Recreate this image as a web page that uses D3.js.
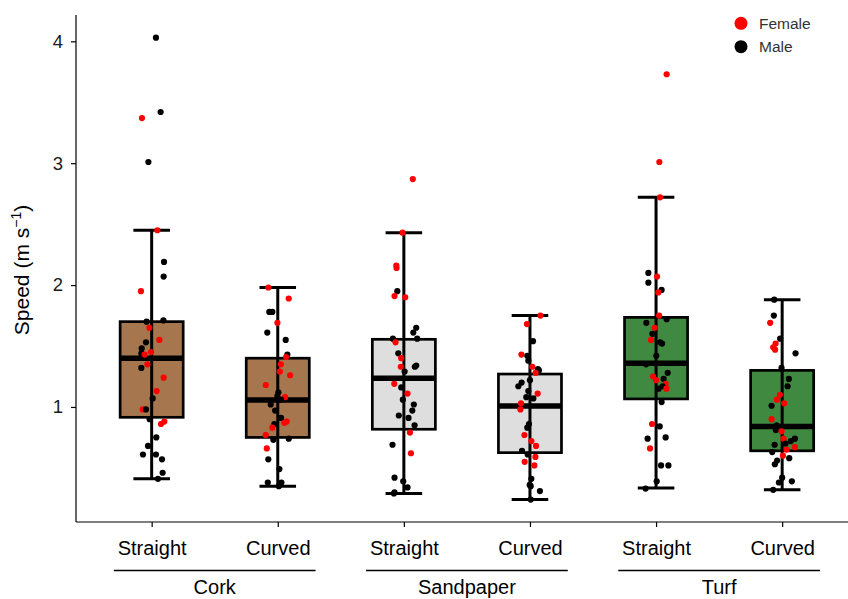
<!DOCTYPE html>
<html><head><meta charset="utf-8">
<script src="https://cdn.jsdelivr.net/npm/d3@7"></script>
<style>
html,body{margin:0;padding:0;background:#fff;}
text{font-family:"Liberation Sans",Arial,Helvetica,sans-serif;}
</style></head>
<body>
<svg id="chart" width="848" height="599"></svg>
<script>
// ---------- DATA ----------
const substrates = ["Cork", "Sandpaper", "Turf"];
const shapes = ["Straight", "Curved", "Straight", "Curved", "Straight", "Curved"];
const yTicks = [1, 2, 3, 4];
const sexes = ["Female", "Male"];

// box statistics per group (Cork S, Cork C, Sand S, Sand C, Turf S, Turf C)
const whiskerLow  = [0.41, 0.35, 0.29, 0.24, 0.336, 0.32];
const q1          = [0.915, 0.75, 0.817, 0.625, 1.066, 0.64];
const median      = [1.40, 1.057, 1.235, 1.008, 1.358, 0.84];
const q3          = [1.70, 1.40, 1.555, 1.27, 1.735, 1.30];
const whiskerHigh = [2.45, 1.98, 2.43, 1.75, 2.72, 1.88];

// points: [speed, sex, jitter (category units)]
const corkStraight = [[4.03,"M",0.034],[3.42,"M",0.071],[3.37,"F",-0.077],[3.01,"M",-0.026],[2.45,"F",0.045],[2.19,"M",0.098],[2.07,"M",0.095],[1.95,"F",-0.085],[1.70,"M",-0.04],[1.71,"M",0.093],[1.65,"F",-0.018],[1.55,"F",0.061],[1.53,"M",-0.045],[1.48,"M",-0.079],[1.44,"M",-0.082],[1.43,"F",-0.056],[1.45,"F",-0.005],[1.35,"F",-0.034],[1.32,"M",-0.082],[1.24,"F",0.095],[1.13,"F",0.040],[1.07,"M",0.008],[0.98,"F",-0.071],[0.98,"M",-0.045],[0.90,"M",-0.016],[0.86,"F",0.074],[0.88,"F",0.10],[0.75,"M",0.037],[0.68,"M",-0.029],[0.61,"M",-0.069],[0.61,"M",0.034],[0.57,"M",0.082],[0.46,"M",0.087],[0.41,"M",0.05]];
const corkCurved = [[1.98,"F",-0.075],[1.89,"F",0.087],[1.78,"M",-0.067],[1.78,"M",-0.043],[1.69,"F",-0.003],[1.61,"M",-0.083],[1.55,"M",0.063],[1.43,"M",0.076],[1.41,"F",0.066],[1.35,"F",0.024],[1.29,"F",0.016],[1.26,"F",0.098],[1.18,"F",-0.095],[1.12,"M",0.005],[1.09,"M",-0.003],[1.08,"F",0.058],[1.06,"M",0.026],[1.02,"M",-0.056],[0.97,"M",-0.021],[0.91,"M",0.026],[0.88,"F",0.071],[0.87,"F",0.052],[0.86,"M",-0.027],[0.83,"F",-0.043],[0.77,"F",-0.095],[0.73,"M",-0.035],[0.74,"M",0.087],[0.66,"F",-0.087],[0.57,"M",-0.075],[0.49,"M",0.013],[0.38,"M",-0.079],[0.38,"M",0.029],[0.35,"M",0.008]];
const sandStraight = [[2.87,"F",0.071],[2.43,"F",-0.010],[2.16,"F",-0.060],[2.14,"F",-0.058],[1.95,"M",-0.052],[1.91,"F",-0.074],[1.90,"F",0.011],[1.65,"M",0.098],[1.61,"M",0.075],[1.56,"M",-0.087],[1.56,"M",0.106],[1.53,"F",-0.066],[1.44,"M",-0.044],[1.40,"F",-0.021],[1.33,"F",-0.024],[1.34,"M",0.098],[1.33,"M",0.087],[1.29,"M",0.006],[1.19,"F",-0.076],[1.16,"M",-0.021],[1.11,"F",0.029],[1.06,"M",-0.008],[1.02,"M",0.079],[0.97,"M",0.067],[0.93,"M",-0.040],[0.91,"M",0.037],[0.85,"M",0.085],[0.79,"F",0.048],[0.69,"M",-0.090],[0.62,"F",0.056],[0.42,"M",-0.074],[0.39,"M",-0.005],[0.34,"M",0.029],[0.30,"M",-0.074],[0.29,"M",-0.079]];
const sandCurved = [[1.75,"F",0.083],[1.68,"F",-0.024],[1.54,"M",0.024],[1.43,"F",-0.068],[1.42,"M",-0.021],[1.38,"M",-0.013],[1.33,"F",0.019],[1.31,"M",0.063],[1.30,"M",0.071],[1.28,"F",0.045],[1.22,"M",0],[1.20,"M",-0.066],[1.17,"M",-0.092],[1.13,"M",-0.013],[1.11,"F",0.061],[1.08,"M",-0.029],[1.07,"M",0.027],[1.03,"F",-0.071],[0.98,"F",-0.076],[0.86,"M",-0.008],[0.83,"M",-0.021],[0.77,"F",-0.044],[0.72,"F",0.011],[0.68,"F",0.048],[0.64,"M",-0.063],[0.61,"M",-0.018],[0.59,"F",0.043],[0.55,"F",-0.042],[0.52,"F",0.035],[0.41,"M",0.011],[0.36,"M",-0.002],[0.35,"M",0.006],[0.31,"M",0.079],[0.24,"M",0.006]];
const turfStraight = [[3.73,"F",0.084],[3.01,"F",0.026],[2.72,"F",0.032],[2.10,"M",-0.061],[2.02,"M",-0.061],[2.07,"F",0.008],[1.96,"M",0.044],[1.94,"F",0.018],[1.75,"F",0.024],[1.72,"M",0.084],[1.69,"M",-0.077],[1.65,"F",-0.011],[1.60,"M",-0.029],[1.55,"F",-0.040],[1.53,"M",0.032],[1.52,"M",0.048],[1.42,"M",0.002],[1.35,"M",-0.079],[1.28,"M",0.092],[1.25,"F",-0.024],[1.22,"F",0],[1.23,"M",0.060],[1.19,"F",0.076],[1.17,"M",0.052],[1.15,"M",0.021],[1.15,"F",0.082],[1.04,"M",0.044],[0.86,"F",-0.032],[0.84,"M",0.029],[0.74,"M",-0.067],[0.75,"M",0.076],[0.66,"F",-0.048],[0.52,"M",0.040],[0.52,"M",0.098],[0.39,"M",0.005],[0.33,"M",-0.083]];
const turfCurved = [[1.88,"M",-0.063],[1.75,"M",-0.066],[1.69,"F",-0.095],[1.56,"M",-0.016],[1.52,"F",-0.052],[1.49,"F",-0.071],[1.47,"F",-0.056],[1.44,"M",0.106],[1.32,"M",-0.005],[1.23,"M",0.053],[1.17,"M",0.043],[1.10,"F",-0.018],[1.06,"F",-0.042],[1.03,"F",0.016],[1.01,"M",-0.084],[0.90,"F",-0.084],[0.85,"M",-0.044],[0.81,"M",-0.050],[0.80,"F",-0.005],[0.74,"M",0.101],[0.74,"F",0.011],[0.72,"M",0.069],[0.70,"M",0.027],[0.69,"M",-0.060],[0.67,"F",0.101],[0.65,"F",0.035],[0.63,"M",-0.079],[0.60,"F",0.006],[0.58,"M",0.056],[0.56,"M",-0.040],[0.53,"M",-0.058],[0.42,"M",0],[0.39,"M",0.077],[0.38,"M",-0.026],[0.32,"M",-0.071]];

const groupPoints = [corkStraight, corkCurved, sandStraight, sandCurved, turfStraight, turfCurved];

// ---------- STYLE ----------
const boxFills = ["#A6764F", "#A6764F", "#DEDEDE", "#DEDEDE", "#3F8A40", "#3F8A40"];
const sexColor = {F: "#FF0000", M: "#000000"};

// ---------- CHART ----------
const svg = d3.select("#chart");
const mLeft = 76, mBottom = 522, mTop = 15;
const x = d3.scaleLinear().domain([0.4, 6.6]).range([mLeft, mLeft + 6.2 * 126.1]);
const y = d3.scaleLinear().domain([0.056, 4.216]).range([mBottom, mTop]);

const boxHalf = 0.25, capHalf = 0.145;

const groups = svg.append("g");
shapes.forEach((s, i) => {
  const c = i + 1;
  const g = groups.append("g");
  g.append("rect")
    .attr("x", x(c - boxHalf)).attr("width", x(c + boxHalf) - x(c - boxHalf))
    .attr("y", y(q3[i])).attr("height", y(q1[i]) - y(q3[i]))
    .attr("fill", boxFills[i]).attr("stroke", "#000").attr("stroke-width", 2.7);
  g.append("line")
    .attr("x1", x(c)).attr("x2", x(c))
    .attr("y1", y(whiskerLow[i])).attr("y2", y(whiskerHigh[i]))
    .attr("stroke", "#000").attr("stroke-width", 3);
  [whiskerLow[i], whiskerHigh[i]].forEach(v => {
    g.append("line")
      .attr("x1", x(c - capHalf)).attr("x2", x(c + capHalf))
      .attr("y1", y(v)).attr("y2", y(v))
      .attr("stroke", "#000").attr("stroke-width", 3);
  });
  g.append("line")
    .attr("x1", x(c - boxHalf)).attr("x2", x(c + boxHalf))
    .attr("y1", y(median[i])).attr("y2", y(median[i]))
    .attr("stroke", "#000").attr("stroke-width", 5.6);
});

shapes.forEach((s, i) => {
  const c = i + 1;
  svg.append("g").selectAll("circle")
    .data(groupPoints[i])
    .join("circle")
    .attr("cx", d => x(c + d[2]))
    .attr("cy", d => y(d[0]))
    .attr("r", 3.1)
    .attr("fill", d => sexColor[d[1]]);
});

const yAxis = svg.append("g")
  .attr("transform", `translate(${mLeft},0)`)
  .call(d3.axisLeft(y).tickValues(yTicks).tickFormat(d3.format("d"))
    .tickSize(5).tickPadding(8).tickSizeOuter(0));
yAxis.select(".domain").attr("stroke", "#000").attr("stroke-width", 1.2)
  .attr("d", `M0,${mTop}V${mBottom}`);
yAxis.selectAll(".tick line").attr("stroke", "#000").attr("stroke-width", 1.2);
yAxis.selectAll(".tick text").attr("font-size", 18.5).attr("fill", "#1a1a1a")
  .style("font-family", '"Liberation Sans",Arial,sans-serif');

const xAxis = svg.append("g")
  .attr("transform", `translate(0,${mBottom})`)
  .call(d3.axisBottom(x).tickValues([1, 2, 3, 4, 5, 6]).tickFormat(d => shapes[d - 1])
    .tickSize(5).tickPadding(14).tickSizeOuter(0));
xAxis.select(".domain").attr("stroke", "#000").attr("stroke-width", 1.2)
  .attr("d", `M${mLeft},0H848`);
xAxis.selectAll(".tick line").attr("stroke", "#000").attr("stroke-width", 1.2);
xAxis.selectAll(".tick text").attr("font-size", 20).attr("fill", "#000")
  .style("font-family", '"Liberation Sans",Arial,sans-serif');

substrates.forEach((sub, k) => {
  const a = 2 * k + 1, b = 2 * k + 2;
  svg.append("line")
    .attr("x1", x(a - 0.3)).attr("x2", x(b + 0.3))
    .attr("y1", 570.5).attr("y2", 570.5)
    .attr("stroke", "#000").attr("stroke-width", 1.3);
  svg.append("text")
    .attr("x", x((a + b) / 2)).attr("y", 594)
    .attr("text-anchor", "middle").attr("font-size", 20).attr("fill", "#000")
    .text(sub);
});

const yt = svg.append("text")
  .attr("transform", "translate(29,270) rotate(-90)")
  .attr("text-anchor", "middle").attr("font-size", 21).attr("fill", "#000");
yt.append("tspan").text("Speed (m s");
yt.append("tspan").attr("font-size", 14).attr("dy", -8).text("\u22121");
yt.append("tspan").attr("dy", 8).text(")");

const leg = svg.append("g");
sexes.forEach((s, k) => {
  const cy = 23.3 + k * 23.4;
  leg.append("circle").attr("cx", 741).attr("cy", cy).attr("r", 6.5)
    .attr("fill", k === 0 ? sexColor.F : sexColor.M);
  leg.append("text").attr("x", 759).attr("y", cy).attr("dy", "0.35em")
    .attr("font-size", 15.5).attr("fill", "#333").text(s);
});
</script>
</body></html>
